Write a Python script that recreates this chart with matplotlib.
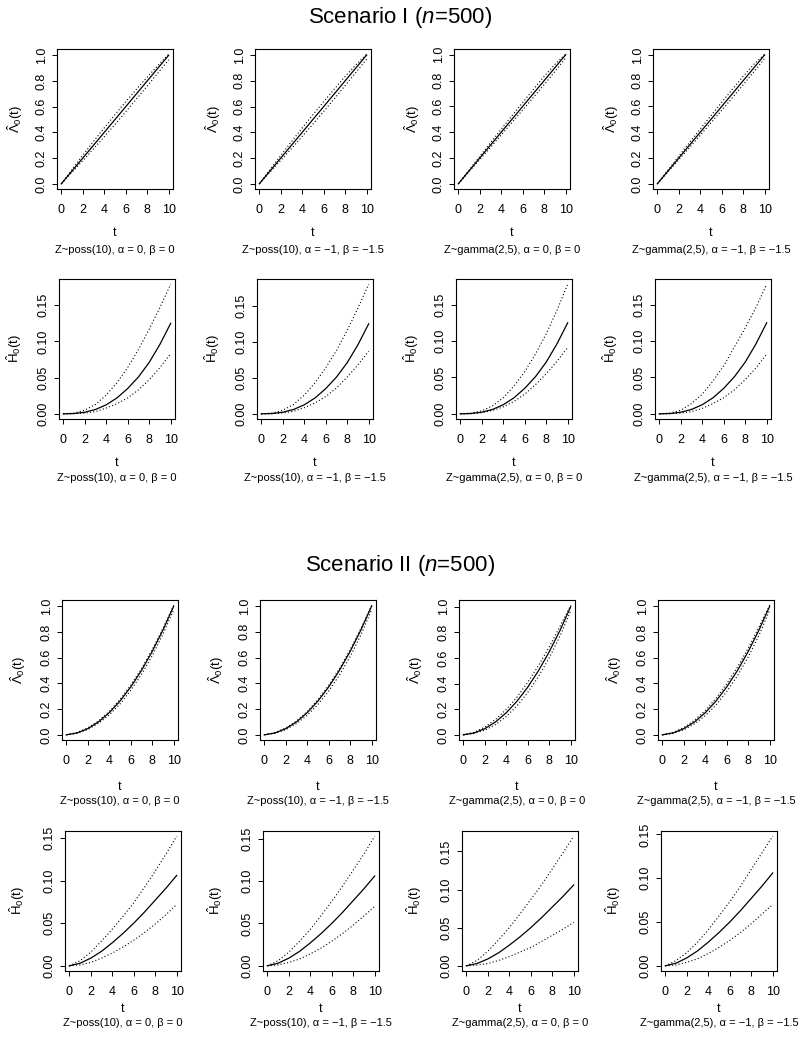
import matplotlib.pyplot as plt
import numpy as np

plt.rcParams['font.family'] = ['Liberation Sans', 'DejaVu Sans']
plt.rcParams['mathtext.fontset'] = 'custom'
plt.rcParams['mathtext.rm'] = 'Liberation Sans'
plt.rcParams['mathtext.it'] = 'Liberation Sans:italic'

# time grid
t = [0, 1, 2, 3, 4, 5, 6, 7, 8, 9, 10]

# Scenario I, baseline cumulative intensity Lambda_0(t)
s1_lam_mean = [0, .1, .2, .3, .4, .5, .6, .7, .8, .9, 1.0]
s1_lam_upper = [
    [0, .112, .222, .330, .435, .538, .638, .736, .830, .920, 1.008],
    [0, .110, .220, .328, .434, .537, .638, .737, .834, .924, 1.006],
    [0, .106, .212, .318, .423, .527, .630, .732, .833, .926, 1.004],
    [0, .107, .214, .320, .425, .529, .632, .734, .834, .928, 1.005],
]
s1_lam_lower = [
    [0, .090, .180, .272, .366, .462, .560, .660, .760, .862, .965],
    [0, .091, .182, .274, .368, .464, .562, .662, .763, .865, .968],
    [0, .094, .188, .283, .379, .475, .572, .670, .769, .870, .975],
    [0, .093, .187, .281, .377, .473, .570, .668, .768, .869, .972],
]

# Scenario I, baseline cumulative hazard H_0(t)
s1_h_mean = [0, .0004, .0022, .006, .0125, .022, .035, .051, .071, .096, .125]
s1_h_upper = [
    [0, .001, .005, .013, .026, .043, .064, .089, .117, .147, .179],
    [0, .001, .005, .013, .026, .043, .064, .088, .116, .147, .180],
    [0, .001, .004, .011, .022, .038, .058, .082, .110, .142, .178],
    [0, .001, .005, .014, .027, .045, .066, .092, .118, .146, .178],
]
s1_h_lower = [
    [0, .0002, .001, .003, .008, .014, .022, .033, .047, .064, .083],
    [0, .0002, .0012, .0035, .0085, .015, .024, .036, .051, .068, .087],
    [0, .0003, .0015, .0045, .0095, .017, .027, .040, .055, .072, .091],
    [0, .0002, .001, .003, .0075, .014, .022, .033, .047, .063, .082],
]

# Scenario II, baseline cumulative intensity
s2_lam_mean = [0, .0145, .048, .1005, .172, .2625, .372, .5005, .648, .8145, 1.0]
s2_lam_upper = [
    [0, .017, .054, .108, .182, .275, .386, .515, .663, .828, 1.008],
    [0, .017, .053, .107, .181, .274, .385, .514, .662, .827, 1.006],
    [0, .019, .060, .120, .198, .295, .410, .540, .686, .847, 1.012],
    [0, .018, .056, .113, .189, .284, .397, .527, .674, .838, 1.008],
]
s2_lam_lower = [
    [0, .012, .041, .089, .155, .240, .345, .470, .615, .782, .975],
    [0, .012, .040, .087, .152, .236, .340, .464, .608, .776, .972],
    [0, .010, .036, .080, .143, .226, .330, .455, .600, .770, .968],
    [0, .011, .039, .085, .149, .232, .336, .460, .605, .773, .970],
]

# Scenario II, baseline cumulative hazard
s2_h_mean = [0, .003, .009, .017, .027, .038, .050, .063, .077, .091, .106]
s2_h_upper = [
    [0, .006, .016, .029, .043, .058, .074, .092, .111, .131, .152],
    [0, .006, .016, .029, .043, .059, .076, .094, .113, .132, .153],
    [0, .007, .019, .034, .050, .068, .087, .106, .127, .148, .170],
    [0, .006, .015, .027, .041, .057, .073, .091, .110, .129, .148],
]
s2_h_lower = [
    [0, .001, .004, .009, .015, .022, .030, .039, .049, .060, .072],
    [0, .001, .004, .008, .014, .021, .029, .038, .048, .059, .070],
    [0, .001, .003, .007, .012, .018, .024, .032, .040, .048, .057],
    [0, .001, .004, .008, .014, .021, .029, .038, .048, .059, .070],
]

subtitles = ["Z~poss(10), α = 0, β = 0", "Z~poss(10), α = −1, β = −1.5",
             "Z~gamma(2,5), α = 0, β = 0", "Z~gamma(2,5), α = −1, β = −1.5"]
titles = [r'Scenario I ($n$=500)', r'Scenario II ($n$=500)']
lam_label = r'$\hat{\Lambda}_0(\mathrm{t})$'
h_label = r'$\hat{\mathrm{H}}_0(\mathrm{t})$'

rows = [
    (s1_lam_mean, s1_lam_upper, s1_lam_lower, lam_label, [0, .2, .4, .6, .8, 1.0], "%.1f"),
    (s1_h_mean, s1_h_upper, s1_h_lower, h_label, [0, .05, .10, .15], "%.2f"),
    (s2_lam_mean, s2_lam_upper, s2_lam_lower, lam_label, [0, .2, .4, .6, .8, 1.0], "%.1f"),
    (s2_h_mean, s2_h_upper, s2_h_lower, h_label, [0, .05, .10, .15], "%.2f"),
]

# layout in pixels (figure is 800 x 1042)
W, H = 800, 1042
row_tops = [49, 279, 600, 831]
row_dx = [0, 2, 5, 8]
col_left = [57, 255, 454, 653]
ax_w, ax_h = 116, 140
t_off = [44, 44, 47, 38]
sub_off = [61, 59, 61, 52]
ylab_off = [42, 45, 44, 48]

fig = plt.figure(figsize=(8, 10.42), dpi=100)

for r, (mean, upper, lower, ylab, yticks, fmt) in enumerate(rows):
    for c in range(4):
        left = col_left[c] + row_dx[r]
        ax = fig.add_axes([left / W, 1 - (row_tops[r] + ax_h) / H, ax_w / W, ax_h / H])
        ax.plot(t, mean, color='black', lw=0.9)
        ax.plot(t, upper[c], color='black', lw=0.8, ls=(0, (1, 2)))
        ax.plot(t, lower[c], color='black', lw=0.8, ls=(0, (1, 2)))
        ax.margins(x=0.04, y=0.04)
        ax.set_xticks([0, 2, 4, 6, 8, 10])
        ax.set_yticks(yticks)
        ax.set_yticklabels([fmt % v for v in yticks], rotation=90, va='center')
        ax.tick_params(direction='out', length=3.5, width=0.7, labelsize=9)
        ax.tick_params(axis='x', pad=7)
        ax.tick_params(axis='y', pad=3)
        for sp in ax.spines.values():
            sp.set_linewidth(0.8)
        ax.text(0.5, -t_off[r] / ax_h, 't', transform=ax.transAxes,
                ha='center', va='center', fontsize=9)
        ax.text(0.5, -sub_off[r] / ax_h, subtitles[c], transform=ax.transAxes,
                ha='center', va='center', fontsize=8)
        ax.text(-ylab_off[r] / ax_w, 0.5, ylab, transform=ax.transAxes,
                ha='center', va='center', rotation=90, fontsize=9.5)

fig.text(0.5, 1 - 17 / H, titles[0], ha='center', va='center', fontsize=16)
fig.text(0.5, 1 - 565 / H, titles[1], ha='center', va='center', fontsize=16)

plt.savefig('out.png', dpi=100)
